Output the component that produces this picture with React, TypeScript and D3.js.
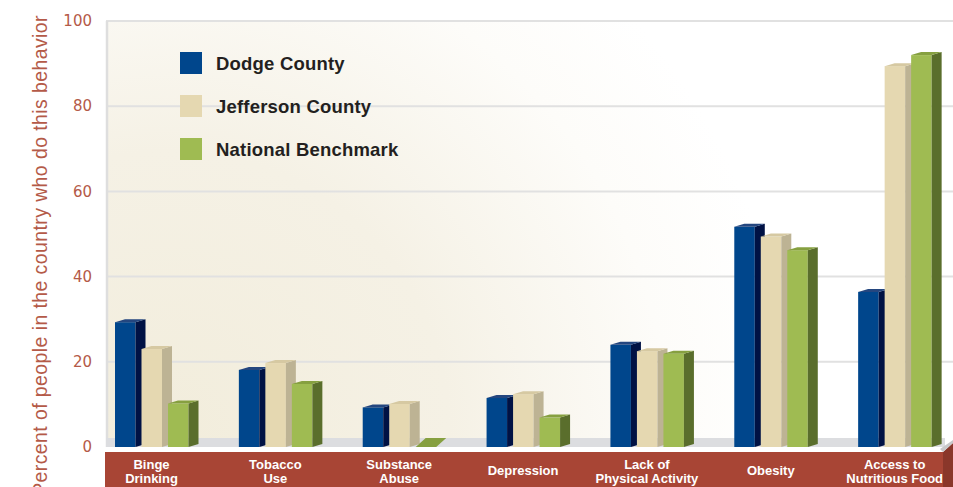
import React from "react";
import * as d3 from "d3";

const categories = ["Binge Drinking", "Tobacco Use", "Substance Abuse", "Depression", "Lack of Physical Activity", "Obesity", "Access to Nutritious Food"];
const categoryLines = [["Binge", "Drinking"], ["Tobacco", "Use"], ["Substance", "Abuse"], ["Depression"], ["Lack of", "Physical Activity"], ["Obesity"], ["Access to", "Nutritious Food"]];
const seriesNames = ["Dodge County", "Jefferson County", "National Benchmark"];
const dodge = [29.3, 18.1, 9.3, 11.5, 24.0, 51.7, 36.4];
const jefferson = [23.0, 19.7, 10.1, 12.4, 22.5, 49.4, 89.4];
const national = [10.2, 14.8, 0, 6.9, 21.9, 46.2, 92.0];
const yTicks = [0, 20, 40, 60, 80, 100];
const yTitle = "Percent of people in the country who do this behavior";

const seriesValues = [dodge, jefferson, national];
const colors = [
  { front: "#00468c", side: "#001244", top: "#24467f" },
  { front: "#e5d8b1", side: "#bdb394", top: "#d6c9a2" },
  { front: "#9fbb52", side: "#5a6e2c", top: "#86a040" },
];

const W = 953;
const H = 487;
const plotLeft = 106;
const plotTop = 21;
const plotBottom = 447;
const depthX = 10;
const depthY = 3;
const floorDepthY = 9;

export default function App() {
  const y = d3.scaleLinear().domain([0, 100]).range([plotBottom, plotTop]);
  const xOuter = d3.scaleBand<string>().domain(categories).range([96, 963]).padding(0);
  const xInner = d3.scaleBand<string>().domain(seriesNames).range([0, 73.5]).paddingInner(0.2264).paddingOuter(0);
  const groupOffset = 19;
  const bw = xInner.bandwidth();
  const y0 = y(0);

  const bars: React.ReactNode[] = [];
  categories.forEach((c, i) => {
    seriesNames.forEach((s, j) => {
      const v = seriesValues[j][i];
      const x = (xOuter(c) as number) + groupOffset + (xInner(s) as number);
      const yt = y(v);
      const col = colors[j];
      const dy = v === 0 ? floorDepthY : depthY;
      const key = `${i}-${j}`;
      bars.push(
        <g key={key}>
          {v > 0 && <rect x={x} y={yt} width={bw} height={y0 - yt} fill={col.front} />}
          {v > 0 && (
            <polygon
              points={`${x + bw},${yt} ${x + bw + depthX},${yt - dy} ${x + bw + depthX},${y0 - dy} ${x + bw},${y0}`}
              fill={col.side}
            />
          )}
          <polygon
            points={`${x},${yt} ${x + depthX},${yt - dy} ${x + bw + depthX},${yt - dy} ${x + bw},${yt}`}
            fill={col.top}
          />
        </g>
      );
    });
  });

  return (
    <svg width={W} height={H} style={{ position: "absolute", left: 0, top: 0, display: "block" }}>
      <defs>
        <radialGradient id="bg" gradientUnits="userSpaceOnUse" cx={170} cy={430} r={620} fx={170} fy={430}>
          <stop offset="0" stopColor="#f2eddc" />
          <stop offset="0.45" stopColor="#f5f1e5" />
          <stop offset="0.8" stopColor="#fdfcf9" />
          <stop offset="1" stopColor="#ffffff" />
        </radialGradient>
      </defs>
      <rect x={0} y={0} width={W} height={H} fill="#ffffff" />
      <rect x={plotLeft} y={plotTop} width={W - plotLeft} height={plotBottom - plotTop} fill="url(#bg)" />
      {yTicks.filter((t) => t > 0).map((t) => (
        <line key={t} x1={plotLeft} x2={W} y1={y(t)} y2={y(t)} stroke="#e1e1e1" strokeWidth={2} />
      ))}
      <line x1={plotLeft + 1} x2={plotLeft + 1} y1={plotTop} y2={plotBottom} stroke="#dedede" strokeWidth={2.5} />
      {/* floor */}
      <rect x={plotLeft} y={plotBottom - floorDepthY} width={945 - plotLeft} height={floorDepthY} fill="#dcdde0" />
      {bars}
      {/* category band */}
      <rect x={105} y={452} width={943 - 105} height={H - 452} fill="#a84535" />
      <polygon points={`943,452 953,443 953,${H} 943,${H}`} fill="#8a372a" />
      <polygon points={`943,452 953,443 953,440 940,449`} fill="#c8c8ca" />
      {categories.map((c, i) => {
        const cx = (xOuter(c) as number) + groupOffset + 36.5;
        const lines = categoryLines[i];
        const baselines = lines.length === 2 ? [469, 483] : [475];
        return (
          <text key={c} x={cx} textAnchor="middle" fill="#ffffff" fontFamily="'Liberation Sans', Arial, sans-serif" fontWeight="bold" fontSize={13}>
            {lines.map((l, k) => (
              <tspan key={k} x={cx} y={baselines[k]}>{l}</tspan>
            ))}
          </text>
        );
      })}
      {/* y ticks */}
      {yTicks.map((t) => (
        <text key={t} x={92} y={y(t)} dy="0.35em" textAnchor="end" fill="#b45a48" fontFamily="'DejaVu Sans', sans-serif" fontSize={15}>
          {t}
        </text>
      ))}
      <text transform="translate(47,15) rotate(-90)" textAnchor="end" fill="#b45a48" fontFamily="'Liberation Sans', Arial, sans-serif" fontSize={19.5} letterSpacing={0.4}>
        {yTitle}
      </text>
      {/* legend */}
      {seriesNames.map((s, j) => (
        <g key={s} transform={`translate(180,${52 + j * 43})`}>
          <rect x={0} y={0} width={22} height={22} fill={colors[j].front} />
          <text x={36} y={11} dy="0.36em" fill="#231f20" fontFamily="'Liberation Sans', Arial, sans-serif" fontWeight="bold" fontSize={18.5} letterSpacing={0.2}>
            {s}
          </text>
        </g>
      ))}
    </svg>
  );
}
